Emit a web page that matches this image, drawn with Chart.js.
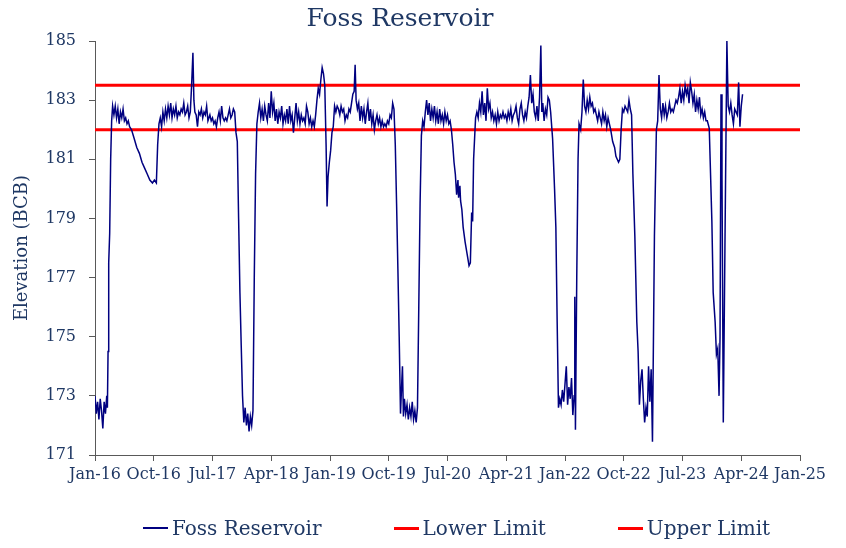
<!DOCTYPE html>
<html>
<head>
<meta charset="utf-8">
<script src="https://cdn.jsdelivr.net/npm/chart.js@4.4.1/dist/chart.umd.min.js"></script>
<style>
  body { margin: 0; background: #fff; }
  #wrap { position: relative; width: 846px; height: 548px; }
  #legend {
    position: absolute; left: 143px; top: 516px;
    display: flex; gap: 72px;
    font-family: 'DejaVu Serif', serif; font-size: 20px; color: #1F3864;
  }
  .item { display: flex; align-items: center; }
  .swatch { display: inline-block; width: 25px; margin-right: 4px; }
</style>
</head>
<body>
<div id="wrap">
  <canvas id="chart" width="846" height="548"></canvas>
  <div id="legend"></div>
</div>
<script>
// months since Jan 2016 (fractional) and reservoir elevation
const fossMonths = [
  0.0, 0.2, 0.4, 0.6, 0.8, 1.0, 1.2, 1.4, 1.6, 1.8,
  1.9, 2.0, 2.1, 2.25, 2.4, 2.55, 2.7, 2.9, 3.1, 3.3,
  3.5, 3.7, 3.9, 4.1, 4.3, 4.5, 4.7, 4.9, 5.1, 5.3,
  5.6, 6.0, 6.4, 6.8, 7.2, 7.6, 8.0, 8.4, 8.8, 9.1,
  9.4, 9.6, 9.8, 10.0, 10.2, 10.4, 10.6, 10.8, 11.0, 11.2,
  11.4, 11.6, 11.8, 12.0, 12.2, 12.4, 12.6, 12.8, 13.0, 13.2,
  13.4, 13.6, 13.8, 14.0, 14.2, 14.4, 14.6, 14.8, 15.0, 15.15,
  15.3, 15.5, 15.7, 15.9, 16.1, 16.3, 16.5, 16.7, 16.9, 17.1,
  17.3, 17.6, 17.8, 18.0, 18.2, 18.4, 18.6, 18.8, 19.0, 19.2,
  19.4, 19.6, 19.8, 20.0, 20.2, 20.4, 20.6, 20.8, 21.0, 21.2,
  21.4, 21.6, 21.8, 22.0, 22.2, 22.4, 22.6, 22.8, 23.0, 23.2,
  23.4, 23.6, 23.8, 24.0, 24.2, 24.4, 24.6, 24.8, 25.0, 25.2,
  25.4, 25.6, 25.8, 26.0, 26.2, 26.4, 26.6, 26.8, 27.0, 27.2,
  27.4, 27.6, 27.8, 28.0, 28.2, 28.4, 28.6, 28.8, 29.0, 29.2,
  29.4, 29.6, 29.8, 30.0, 30.2, 30.4, 30.6, 30.8, 31.0, 31.2,
  31.4, 31.6, 31.8, 32.0, 32.2, 32.4, 32.6, 32.8, 33.0, 33.2,
  33.4, 33.6, 33.8, 34.0, 34.2, 34.4, 34.6, 34.8, 35.0, 35.2,
  35.4, 35.55, 35.7, 35.9, 36.1, 36.3, 36.5, 36.7, 36.9, 37.1,
  37.3, 37.5, 37.7, 37.9, 38.1, 38.3, 38.5, 38.7, 38.9, 39.1,
  39.3, 39.5, 39.7, 39.85, 40.0, 40.2, 40.4, 40.6, 40.8, 41.0,
  41.2, 41.4, 41.6, 41.8, 42.0, 42.2, 42.4, 42.6, 42.8, 43.0,
  43.2, 43.4, 43.6, 43.8, 44.0, 44.2, 44.4, 44.6, 44.8, 45.0,
  45.2, 45.4, 45.6, 45.8, 46.0, 46.2, 46.4, 46.6, 46.8, 47.0,
  47.1, 47.25, 47.4, 47.6, 47.8, 48.0, 48.2, 48.4, 48.6, 48.8,
  49.0, 49.2, 49.4, 49.6, 49.8, 50.0, 50.2, 50.4, 50.6, 50.8,
  51.0, 51.2, 51.4, 51.6, 51.8, 52.0, 52.2, 52.4, 52.6, 52.8,
  53.0, 53.2, 53.4, 53.6, 53.8, 54.0, 54.2, 54.4, 54.6, 54.8,
  55.0, 55.2, 55.4, 55.6, 55.7, 55.9, 56.0, 56.2, 56.4, 56.7,
  57.0, 57.3, 57.5, 57.7, 57.85, 58.0, 58.3, 58.5, 58.7, 58.9,
  59.1, 59.3, 59.5, 59.7, 59.9, 60.1, 60.3, 60.5, 60.7, 60.9,
  61.1, 61.3, 61.5, 61.7, 61.9, 62.1, 62.3, 62.5, 62.7, 62.9,
  63.1, 63.3, 63.5, 63.7, 63.9, 64.1, 64.3, 64.5, 64.7, 64.9,
  65.1, 65.3, 65.5, 65.7, 65.9, 66.1, 66.3, 66.5, 66.7, 66.9,
  67.1, 67.3, 67.5, 67.7, 67.9, 68.1, 68.3, 68.45, 68.6, 68.8,
  69.0, 69.2, 69.4, 69.6, 69.8, 70.1, 70.4, 70.6, 70.8, 71.0,
  71.2, 71.4, 71.6, 71.8, 72.0, 72.2, 72.4, 72.6, 72.8, 73.0,
  73.2, 73.4, 73.5, 73.6, 73.8, 74.0, 74.15, 74.4, 74.6, 74.8,
  75.0, 75.2, 75.4, 75.6, 75.8, 76.0, 76.2, 76.4, 76.6, 76.8,
  77.0, 77.2, 77.4, 77.6, 77.8, 78.0, 78.2, 78.4, 78.6, 78.8,
  79.0, 79.3, 79.6, 79.8, 80.0, 80.2, 80.4, 80.6, 80.8, 81.0,
  81.2, 81.4, 81.6, 81.8, 82.0, 82.2, 82.4, 82.7, 83.0, 83.2,
  83.4, 83.6, 83.8, 84.0, 84.2, 84.4, 84.6, 84.8, 85.0, 85.2,
  85.4, 85.7, 86.0, 86.2, 86.4, 86.6, 86.8, 87.0, 87.2, 87.4,
  87.6, 87.8, 88.0, 88.2, 88.4, 88.6, 88.8, 89.0, 89.2, 89.4,
  89.6, 89.8, 90.0, 90.2, 90.4, 90.6, 90.8, 91.0, 91.2, 91.4,
  91.6, 91.8, 92.0, 92.2, 92.4, 92.6, 92.8, 93.0, 93.2, 93.4,
  93.6, 93.8, 94.1, 94.5, 94.7, 95.0, 95.2, 95.4, 95.6, 95.75,
  95.9, 96.05, 96.25, 96.5, 96.8, 97.0, 97.2, 97.4, 97.6, 97.8,
  98.0, 98.2, 98.4, 98.6, 98.8, 99.0, 99.2
];

const fossElevation = [
  173.0, 172.4, 172.8, 172.2, 172.9, 172.5, 171.9, 172.8, 172.4, 173.0,
  172.6, 174.5, 177.5, 178.5, 181.0, 182.3, 182.8, 182.5, 182.8, 182.4,
  182.7, 182.2, 182.6, 182.4, 182.7, 182.3, 182.4, 182.2, 182.3, 182.1,
  182.0, 181.7, 181.4, 181.2, 180.9, 180.7, 180.5, 180.3, 180.2, 180.3,
  180.2, 181.5, 182.2, 182.4, 182.1, 182.6, 182.3, 182.7, 182.4, 182.8,
  182.5, 182.9, 182.4, 182.7, 182.5, 182.8, 182.4, 182.6, 182.5, 182.7,
  182.6, 182.9, 182.5, 182.6, 182.8, 182.4, 182.6, 183.5, 184.6, 183.0,
  182.6, 182.5, 182.1, 182.6, 182.5, 182.7, 182.4, 182.6, 182.5, 182.8,
  182.3, 182.5, 182.3, 182.4, 182.2, 182.3, 182.1, 182.4, 182.6, 182.3,
  182.8, 182.4, 182.3, 182.4, 182.3, 182.5, 182.7, 182.4, 182.5, 182.7,
  182.6, 181.9, 181.6, 179.0, 176.5, 174.7, 173.0, 172.1, 172.6, 172.0,
  172.4, 171.8, 172.3, 172.0, 172.5, 177.0, 180.5, 182.2, 182.6, 182.9,
  182.4, 182.7, 182.3, 182.8, 182.5, 182.3, 182.9, 182.4, 183.3, 182.6,
  182.9, 182.3, 182.7, 182.2, 182.6, 182.4, 182.8, 182.2, 182.5, 182.3,
  182.7, 182.2, 182.8, 182.3, 182.5, 181.9, 182.4, 182.9, 182.3, 182.6,
  182.2, 182.5, 182.3, 182.4, 182.2, 182.8, 182.6, 182.2, 182.4, 182.1,
  182.3, 182.1, 182.5, 183.0, 183.4, 183.2, 183.7, 184.1, 183.9, 183.5,
  181.5, 179.4, 180.4, 180.9, 181.3, 181.9, 182.1, 182.8, 182.6, 182.8,
  182.7, 182.5, 182.8, 182.6, 182.7, 182.3, 182.5, 182.4, 182.7, 182.6,
  182.9, 183.2, 183.3, 184.2, 183.0, 182.7, 182.9, 182.3, 182.8, 182.4,
  182.7, 182.2, 182.6, 182.9, 182.3, 182.7, 182.2, 182.5, 182.0, 182.3,
  182.5, 182.2, 182.4, 182.1, 182.3, 182.1, 182.2, 182.1, 182.3, 182.2,
  182.5, 182.4, 182.9, 182.7, 181.5, 179.5, 177.3, 175.0, 172.4, 173.5,
  174.0, 172.3, 172.9, 172.4, 172.7, 172.2, 172.6, 172.3, 172.8, 172.2,
  172.5, 172.1, 172.6, 176.0, 179.5, 181.8, 182.3, 182.1, 182.6, 183.0,
  182.5, 182.9, 182.3, 182.7, 182.4, 182.8, 182.3, 182.6, 182.2, 182.7,
  182.3, 182.5, 182.2, 182.6, 182.3, 182.5, 182.2, 182.3, 182.0, 181.5,
  180.9, 180.5, 179.8, 180.3, 179.7, 180.1, 179.6, 179.3, 178.7, 178.2,
  177.8, 177.4, 177.5, 179.2, 178.9, 181.0, 182.4, 182.6, 182.4, 182.9,
  182.6, 183.3, 182.5, 182.9, 182.3, 183.4, 182.7, 182.9, 182.4, 182.6,
  182.3, 182.5, 182.2, 182.6, 182.3, 182.5, 182.4, 182.6, 182.4, 182.5,
  182.3, 182.6, 182.4, 182.7, 182.3, 182.5, 182.6, 182.8, 182.4, 182.2,
  182.7, 182.9, 182.5, 182.3, 182.6, 182.4, 182.8, 183.1, 183.85, 182.9,
  183.2, 182.6, 182.4, 182.8, 182.3, 183.1, 184.85, 182.6, 182.9, 182.3,
  182.7, 182.5, 183.1, 183.0, 182.6, 181.7, 180.0, 178.7, 175.5, 172.6,
  172.9, 172.7, 173.2, 172.8, 173.4, 174.0, 172.7, 173.3, 172.9, 173.6,
  172.35, 173.0, 176.35, 171.85, 177.0, 181.0, 182.2, 182.0, 182.6, 183.7,
  182.8, 182.6, 183.0, 182.7, 183.1, 182.8, 182.9, 182.6, 182.7, 182.5,
  182.3, 182.6, 182.4, 182.2, 182.6, 182.3, 182.5, 182.1, 182.4, 182.2,
  182.0, 181.6, 181.4, 181.1, 181.0, 180.9, 181.0, 182.0, 182.7, 182.6,
  182.8, 182.7, 182.6, 183.0, 182.7, 182.5, 180.5, 178.4, 175.5, 174.5,
  172.7, 173.5, 173.9, 172.9, 172.1, 172.6, 172.3, 174.0, 172.8, 173.9,
  171.45, 178.4, 182.0, 182.3, 183.85, 182.7, 182.4, 182.9, 182.5, 182.8,
  182.4, 182.6, 182.9, 182.6, 182.7, 182.6, 182.8, 183.0, 182.9, 183.1,
  183.4, 182.9, 183.3, 183.0, 183.5, 183.2, 183.4, 182.9, 183.6, 183.3,
  182.9, 183.2, 182.6, 183.0, 182.7, 183.1, 182.5, 182.7, 182.4, 182.6,
  182.3, 182.3, 182.05, 178.9, 176.5, 175.5, 174.4, 174.6, 173.0, 175.0,
  183.2, 180.4, 172.1, 178.0, 185.0, 182.8, 182.6, 182.9, 182.5, 182.2,
  182.7, 182.6, 182.5, 183.6, 182.1, 182.8, 183.2
];

const lowerLimit = 182;
const upperLimit = 183.5;
const axisMonths = [0, 108];   // Jan-16 .. Jan-25
const tickLabels = ['Jan-16', 'Oct-16', 'Jul-17', 'Apr-18', 'Jan-19', 'Oct-19', 'Jul-20',
                    'Apr-21', 'Jan-22', 'Oct-22', 'Jul-23', 'Apr-24', 'Jan-25'];

const textColor = '#1F3864';
const axisColor = '#595959';
const font = 'DejaVu Serif';

const fossData = fossMonths.map((m, i) => ({ x: m, y: fossElevation[i] }));

const datasets = [
  {
    label: 'Foss Reservoir',
    data: fossData,
    borderColor: '#000080',
    borderWidth: 1.5,
    pointRadius: 0,
    tension: 0
  },
  {
    label: 'Lower Limit',
    data: axisMonths.map(m => ({ x: m, y: lowerLimit })),
    borderColor: '#FF0000',
    borderWidth: 3,
    pointRadius: 0
  },
  {
    label: 'Upper Limit',
    data: axisMonths.map(m => ({ x: m, y: upperLimit })),
    borderColor: '#FF0000',
    borderWidth: 3,
    pointRadius: 0
  }
];

const ctx = document.getElementById('chart').getContext('2d');
const chart = new Chart(ctx, {
  type: 'line',
  data: { datasets: datasets },
  options: {
    responsive: false,
    animation: false,
    layout: { padding: { left: 0, right: 46, top: 0, bottom: 0 } },
    plugins: {
      legend: { display: false },
      tooltip: { enabled: false },
      title: {
        display: true,
        text: 'Foss Reservoir',
        color: textColor,
        font: { family: font, size: 25, weight: 'normal' },
        padding: { top: 4, bottom: 7 }
      }
    },
    scales: {
      x: {
        type: 'linear',
        min: 0,
        max: 108,
        afterFit(scale) { scale.height = 93; },
        border: { display: true, color: axisColor, width: 1 },
        grid: { drawOnChartArea: false, drawTicks: true, tickLength: 6, color: axisColor },
        ticks: {
          stepSize: 9,
          autoSkip: false,
          maxRotation: 0,
          padding: 4,
          color: textColor,
          font: { family: font, size: 16 },
          callback: (v, i) => tickLabels[i]
        }
      },
      y: {
        min: 171,
        max: 185,
        afterFit(scale) { scale.width = 95; },
        border: { display: true, color: axisColor, width: 1 },
        grid: { drawOnChartArea: false, drawTicks: true, tickLength: 6, color: axisColor },
        ticks: {
          stepSize: 2,
          padding: 13,
          color: textColor,
          font: { family: font, size: 16 }
        },
        title: {
          display: true,
          text: 'Elevation (BCB)',
          color: textColor,
          font: { family: font, size: 18 },
          padding: { top: 12, bottom: 0 }
        }
      }
    }
  }
});

// legend built from the datasets
const legendEl = document.getElementById('legend');
chart.data.datasets.forEach(ds => {
  const item = document.createElement('div');
  item.className = 'item';
  const sw = document.createElement('span');
  sw.className = 'swatch';
  sw.style.height = ds.borderWidth + 'px';
  sw.style.background = ds.borderColor;
  const txt = document.createElement('span');
  txt.textContent = ds.label;
  item.appendChild(sw);
  item.appendChild(txt);
  legendEl.appendChild(item);
});
</script>
</body>
</html>
